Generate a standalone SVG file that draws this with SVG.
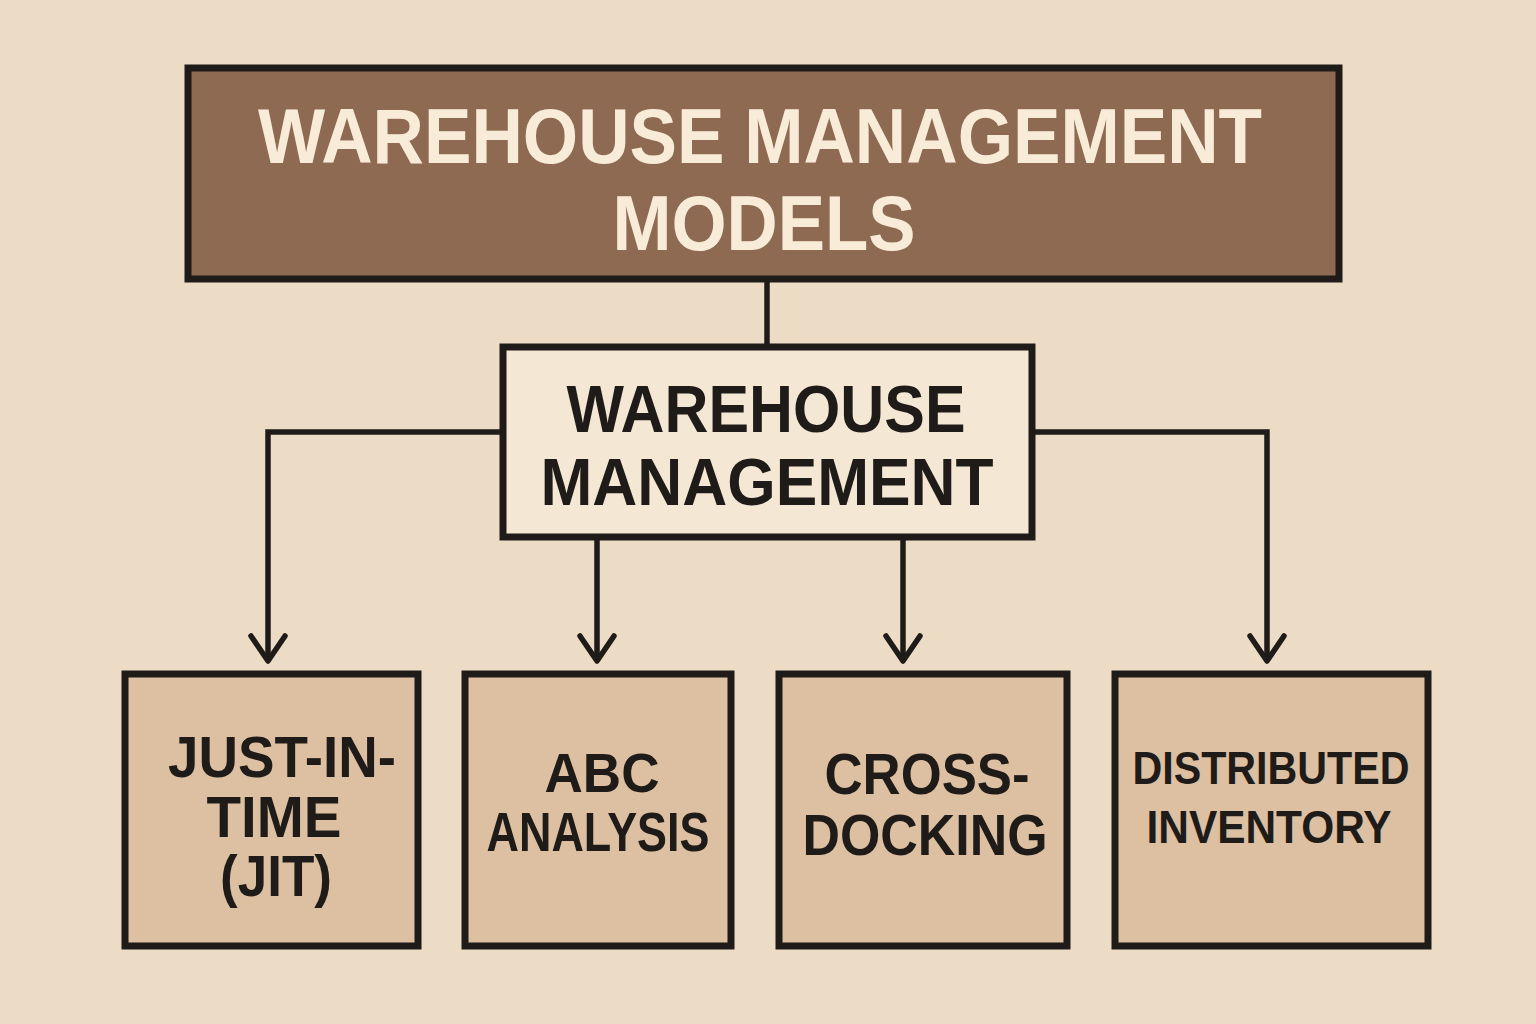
<svg xmlns="http://www.w3.org/2000/svg" width="1536" height="1024" viewBox="0 0 1536 1024">
<style>
.box{stroke:#1f1b18;stroke-width:7}
.top{fill:#8d6a51}
.mid{fill:#f4e7d4}
.leaf{fill:#dcc0a1}
text{font-family:"Liberation Sans","DejaVu Sans",sans-serif;font-weight:bold;text-anchor:middle}
.tt{fill:#f8ecd9;font-size:78px}
.mt{fill:#1f1b18;font-size:66px}
.lt{fill:#1f1b18;font-size:57px}
.at{fill:#1f1b18;font-size:55px}
.dt{fill:#1f1b18;font-size:47px}
.conn{fill:none;stroke:#1f1b18;stroke-width:5.5}
</style>
<rect width="1536" height="1024" fill="#ecdcc6"/>
<g id="connectors">
<path class="conn" d="M767 280V346"/>
<path class="conn" d="M502 432H268V660"/>
<path class="conn" d="M1033 432H1267V660"/>
<path class="conn" d="M597 538V660"/>
<path class="conn" d="M903 538V660"/>
<path class="conn" d="M251 636L268 661L285 636M580 636L597 661L614 636M886 636L903 661L920 636M1250 636L1267 661L1284 636" stroke-linejoin="round" stroke-linecap="round"/>
</g>
<g id="node-root">
<rect class="box top" x="188" y="68" width="1151" height="211"/>
<text class="tt" x="760" y="163" textLength="1004" lengthAdjust="spacingAndGlyphs">WAREHOUSE MANAGEMENT</text>
<text class="tt" x="764" y="250" textLength="303" lengthAdjust="spacingAndGlyphs">MODELS</text>
</g>
<g id="node-wm">
<rect class="box mid" x="503" y="347" width="529" height="190"/>
<text class="mt" x="766" y="432" textLength="399" lengthAdjust="spacingAndGlyphs">WAREHOUSE</text>
<text class="mt" x="767" y="505" textLength="453" lengthAdjust="spacingAndGlyphs">MANAGEMENT</text>
</g>
<g id="node-jit">
<rect class="box leaf" x="125" y="674" width="293" height="272"/>
<text class="lt" x="282" y="777" textLength="228" lengthAdjust="spacingAndGlyphs">JUST-IN-</text>
<text class="lt" x="274" y="837" textLength="135" lengthAdjust="spacingAndGlyphs">TIME</text>
<text class="lt" x="276" y="896" textLength="112" lengthAdjust="spacingAndGlyphs">(JIT)</text>
</g>
<g id="node-abc">
<rect class="box leaf" x="465" y="674" width="266" height="272"/>
<text class="at" x="602" y="792" textLength="115" lengthAdjust="spacingAndGlyphs">ABC</text>
<text class="at" x="598" y="851" textLength="223" lengthAdjust="spacingAndGlyphs">ANALYSIS</text>
</g>
<g id="node-cross">
<rect class="box leaf" x="779" y="674" width="288" height="272"/>
<text class="lt" x="927" y="794" textLength="205" lengthAdjust="spacingAndGlyphs">CROSS-</text>
<text class="lt" x="925" y="855" textLength="245" lengthAdjust="spacingAndGlyphs">DOCKING</text>
</g>
<g id="node-dist">
<rect class="box leaf" x="1115" y="674" width="313" height="272"/>
<text class="dt" x="1271" y="784" textLength="277" lengthAdjust="spacingAndGlyphs">DISTRIBUTED</text>
<text class="dt" x="1269" y="843" textLength="245" lengthAdjust="spacingAndGlyphs">INVENTORY</text>
</g>
</svg>
